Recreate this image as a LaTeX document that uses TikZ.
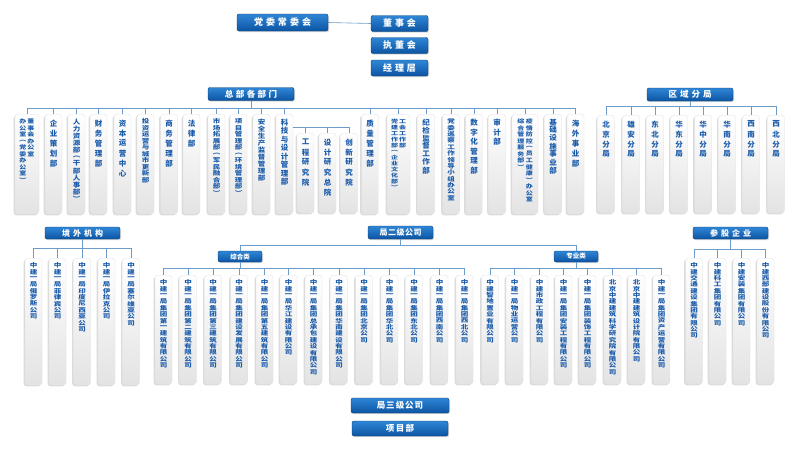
\documentclass[tikz,border=0pt]{standalone}
\usepackage{fontspec}
\usepackage{graphicx}
\setmainfont{Noto Sans CJK SC}
\usetikzlibrary{shadows}
\definecolor{tblue}{HTML}{1A5BAA}
\definecolor{hdrtop}{HTML}{2F86D6}
\definecolor{hdrbot}{HTML}{0C55A3}
\definecolor{lineblue}{HTML}{6C9CC9}
\newdimen\vtstep
\newdimen\lspdim
\def\vtl#1{\ifx\relax#1\else\vbox to\vtstep{\vss\hbox to 1em{\hss\scalebox{1}[\vtsc]{#1}\hss}\vss}\expandafter\vtl\fi}
\newcommand\vt[2]{\vtstep=#1pt\pgfmathparse{min(1,#1/8.2)}\let\vtsc\pgfmathresult
  \vtop{\offinterlineskip\edef\vttmp{#2}\expandafter\vtl\vttmp\relax}}
\def\lspl#1{\ifx\relax#1\else#1\kern\lspdim\expandafter\lspl\fi}
\newcommand\lsp[2]{\lspdim=#1pt\lspl#2\relax\unkern}
\tikzset{
 hdr/.style={draw=hdrbot!70!black, line width=0.4pt, top color=hdrtop, bottom color=hdrbot,
   rounded corners=2pt, text=white, font=\bfseries\fontsize{9}{10}\selectfont, inner sep=0pt,
   drop shadow={shadow xshift=1pt,shadow yshift=-1.2pt,opacity=0.3}},
 vbx/.style={rounded corners=3pt, top color=white, bottom color=black!11, draw=black!12,
   line width=0.3pt, inner sep=0pt, anchor=north,
   drop shadow={shadow xshift=-1.3pt,shadow yshift=-1.3pt,opacity=0.28}},
 vtx/.style={anchor=north, inner sep=0pt, text=tblue, font=\bfseries\fontsize{7.5}{7.5}\selectfont},
 vtx2/.style={vtx, font=\bfseries\fontsize{7}{7}\selectfont},
 conn/.style={draw=lineblue, line width=0.6pt},
}
\newcommand\vbn[6]{%
 \node[vbx, minimum width=#4pt, minimum height=#5pt] (#1) at (#2,#3) {};
 \node[vtx] (#1-t) at ([yshift=-4pt]#1.north) {#6};}
\newcommand\vbd[6]{%
 \node[vbx, minimum width=#4pt, minimum height=#5pt] (#1) at (#2,#3) {};
 \node[vtx2] (#1-t) at ([yshift=-4pt]#1.north) {#6};}
\begin{document}
\begin{tikzpicture}[x=1pt,y=-1pt]
\useasboundingbox (0,0) rectangle (800,450);
\fill[white] (0,0) rectangle (800,450);

% top leadership
\node[hdr, minimum width=91pt, minimum height=17pt] (dw) at (282.5,22.5) {\lsp{3}{党委常委会}};
\node[hdr, minimum width=57pt, minimum height=16pt] (dsh) at (399.5,23.5) {\lsp{3}{董事会}};
\node[hdr, minimum width=57pt, minimum height=16pt] (zdh) at (399.5,45.5) {\lsp{3}{执董会}};
\node[hdr, minimum width=57pt, minimum height=16pt] (jlc) at (399.5,68) {\lsp{3}{经理层}};
\draw[conn] (dw.east) -- (dsh.west);

% headquarters
\node[hdr, minimum width=86pt, minimum height=13pt, font=\bfseries\fontsize{8.5}{9}\selectfont] (zb) at (251,94) {\lsp{2.5}{总部各部门}};
\coordinate (hqbus) at (0,108);
\vbd{h1}{27}{114}{24}{100}{\hbox{\vt{6.5}{办公室︵党委办公室︶}\kern1pt\vt{6.5}{董事会办公室}}}
\vbn{h2}{53.5}{114}{17}{100}{\vt{10}{企业策划部}}
\vbn{h3}{76.5}{114}{17}{100}{\vt{7}{人力资源部︵干部人事部︶}}
\vbn{h4}{98.5}{114}{17}{100}{\vt{10}{财务管理部}}
\vbn{h5}{122.5}{114}{17}{100}{\vt{10}{资本运营中心}}
\vbn{h6}{145.5}{114}{17}{100}{\vt{6.5}{投资运营与城市更新部}}
\vbn{h7}{169}{114}{17}{100}{\vt{10}{商务管理部}}
\vbn{h8}{191.5}{114}{17}{100}{\vt{10}{法律部}}
\vbn{h9}{216.5}{114}{17}{100}{\vt{6.5}{市场拓展部︵军民融合部︶}}
\vbn{h10}{238.5}{114}{17}{100}{\vt{6.5}{项目管理部︵环境管理部︶}}
\vbn{h11}{261.5}{114}{17}{100}{\vt{7}{安全生产监督管理部}}
\vbn{h12}{284.5}{114}{17}{100}{\vt{8.5}{科技与设计管理部}}
\vbn{s1}{305.5}{133}{17}{80}{\vt{10}{工程研究院}}
\vbn{s2}{327.5}{133}{17}{80}{\vt{10}{设计研究总院}}
\vbn{s3}{349}{133}{17}{80}{\vt{10}{创新研究院}}
\vbn{h13}{370}{114}{17}{100}{\vt{10}{质量管理部}}
\vbd{h14}{398.5}{114}{23}{100}{\hbox{\vt{6}{党建工作部︵企业文化部︶}\kern1pt\vt{6}{工会工作部}}}
\vbn{h15}{426}{114}{17}{100}{\vt{8}{纪检监督工作部}}
\vbn{h16}{451}{114}{17}{100}{\vt{6.4}{党委巡察工作领导小组办公室}}
\vbn{h17}{474}{114}{17}{100}{\vt{9.5}{数字化管理部}}
\vbn{h18}{497}{114}{17}{100}{\vt{9.5}{审计部}}
\vbd{h19}{525}{114}{26}{100}{\hbox{\vt{6.5}{综合管理服务部︶}\kern1.5pt\vt{6.5}{疫情防控︵员工健康︶办公室}}}
\vbn{h20}{553}{114}{17}{100}{\vt{8}{基础设施事业部}}
\vbn{h21}{575.5}{114}{17}{100}{\vt{10}{海外事业部}}
\draw[conn] (zb.south) -- (zb.south |- hqbus);
\draw[conn] (h1.north |- hqbus) -- (h21.north |- hqbus);
\foreach \n in {h1,h2,h3,h4,h5,h6,h7,h8,h9,h10,h11,h12,h13,h14,h15,h16,h17,h18,h19,h20,h21}
  \draw[conn] (\n.north) -- (\n.north |- hqbus);
\coordinate (kjbus) at (0,127);
\draw[conn] (h12.east |- kjbus) -- (s3.north |- kjbus);
\foreach \n in {s1,s2,s3} \draw[conn] (\n.north) -- (\n.north |- kjbus);

% regional branches
\node[hdr, minimum width=86pt, minimum height=13pt, font=\bfseries\fontsize{8.5}{9}\selectfont] (qy) at (690,94.5) {\lsp{3}{区域分局}};
\coordinate (qybus) at (0,106);
\foreach \cx/\txt [count=\i] in {606/北京分局,631/雄安分局,655/东北分局,679/华东分局,703/华中分局,727/华南分局,751/西南分局,776/西北分局}{
  \node[vbx, minimum width=17pt, minimum height=98pt] (q\i) at (\cx,115) {};
  \node[vtx] (q\i-t) at ([yshift=-4pt]q\i.north) {\vt{10}{\txt}};
  \draw[conn] (q\i.north) -- (q\i.north |- qybus);
}
\draw[conn] (qy.south) -- (qy.south |- qybus);
\draw[conn] (q1.north |- qybus) -- (q8.north |- qybus);

% overseas
\node[hdr, minimum width=75pt, minimum height=12pt, font=\bfseries\fontsize{8}{9}\selectfont] (jw) at (82.5,233) {\lsp{3}{境外机构}};
\coordinate (jwbus) at (0,248);
\foreach \cx/\txt [count=\i] in {33.5/中建一局俄罗斯公司,57.5/中建一局菲律宾公司,82/中建一局印度尼西亚公司,106.5/中建一局伊拉克公司,131/中建一局塞尔维亚公司}{
  \node[vbx, minimum width=17pt, minimum height=127pt] (w\i) at (\cx,258) {};
  \node[vtx] (w\i-t) at ([yshift=-4pt]w\i.north) {\vt{6.4}{\txt}};
  \draw[conn] (w\i.north) -- (w\i.north |- jwbus);
}
\draw[conn] (jw.south) -- (jw.south |- jwbus);
\draw[conn] (w1.north |- jwbus) -- (w5.north |- jwbus);

% second-level companies
\node[hdr, minimum width=65pt, minimum height=13pt, font=\bfseries\fontsize{8}{9}\selectfont] (j2) at (400.5,232.5) {\lsp{0.5}{局二级公司}};
\coordinate (j2bus) at (0,245);
\node[hdr, minimum width=44pt, minimum height=11pt, font=\bfseries\fontsize{6.5}{7}\selectfont] (zh) at (240,256.5) {综合类};
\node[hdr, minimum width=44pt, minimum height=11pt, font=\bfseries\fontsize{6.5}{7}\selectfont] (zy) at (576,256.5) {专业类};
\draw[conn] (j2.south) -- (j2.south |- j2bus);
\draw[conn] (zh.north |- j2bus) -- (zy.north |- j2bus);
\draw[conn] (zh.north) -- (zh.north |- j2bus);
\draw[conn] (zy.north) -- (zy.north |- j2bus);
\coordinate (cobus) at (0,268);
\foreach \cx/\txt [count=\i] in {163.5/中建一局集团第一建筑有限公司,188/中建一局集团第二建筑有限公司,213/中建一局集团第三建筑有限公司,239/中建一局集团建设发展有限公司,264.5/中建一局集团第五建筑有限公司,288.5/中建一局华江建设有限公司,313.5/中建一局集团总承包建设有限公司,339/中建一局集团华南建设有限公司,364/中建一局集团北京公司,389.5/中建一局集团华北公司,414/中建一局集团东北公司,439.5/中建一局集团西南公司,464.5/中建一局集团西北公司}{
  \node[vbx, minimum width=17pt, minimum height=109pt] (c\i) at (\cx,275) {};
  \node[vtx] (c\i-t) at ([yshift=-4pt]c\i.north) {\vt{6.4}{\txt}};
  \draw[conn] (c\i.north) -- (c\i.north |- cobus);
}
\draw[conn] (zh.south) -- (zh.south |- cobus);
\draw[conn] (c1.north |- cobus) -- (c13.north |- cobus);
\foreach \cx/\txt [count=\i] in {490/中建智地置业有限公司,514.5/中建一局物业运营公司,539.5/中建市政工程有限公司,563.5/中建一局集团安装工程有限公司,587.5/中建一局集团装饰工程有限公司,612.5/北京中建建筑科学研究院有限公司,636.5/北京中建建筑设计院有限公司,661.5/中建一局集团资产运营有限公司}{
  \node[vbx, minimum width=17pt, minimum height=109pt] (p\i) at (\cx,275) {};
  \node[vtx] (p\i-t) at ([yshift=-4pt]p\i.north) {\vt{6.4}{\txt}};
  \draw[conn] (p\i.north) -- (p\i.north |- cobus);
}
\draw[conn] (zy.south) -- (zy.south |- cobus);
\draw[conn] (p1.north |- cobus) -- (p8.north |- cobus);

% shareholding
\node[hdr, minimum width=75pt, minimum height=12pt, font=\bfseries\fontsize{8}{9}\selectfont] (cg) at (730.5,233) {\lsp{3}{参股企业}};
\coordinate (cgbus) at (0,249);
\foreach \cx/\txt [count=\i] in {694/中建交通建设集团有限公司,717.5/中建科工集团有限公司,741.5/中建安装集团有限公司,765.5/中建西部建设股份有限公司}{
  \node[vbx, minimum width=17pt, minimum height=126pt] (g\i) at (\cx,258) {};
  \node[vtx] (g\i-t) at ([yshift=-4pt]g\i.north) {\vt{6.4}{\txt}};
  \draw[conn] (g\i.north) -- (g\i.north |- cgbus);
}
\draw[conn] (cg.south) -- (cg.south |- cgbus);
\draw[conn] (g1.north |- cgbus) -- (g4.north |- cgbus);

% bottom
\node[hdr, minimum width=98pt, minimum height=15pt, font=\bfseries\fontsize{8.5}{9}\selectfont] (j3) at (400,405.5) {\lsp{1}{局三级公司}};
\node[hdr, minimum width=96pt, minimum height=15pt, font=\bfseries\fontsize{8.5}{9}\selectfont] (xmb) at (400,428.5) {\lsp{1.5}{项目部}};
\end{tikzpicture}
\end{document}
